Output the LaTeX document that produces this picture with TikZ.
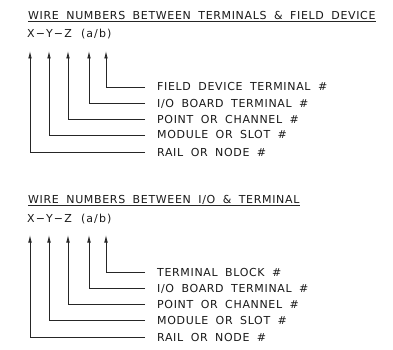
\documentclass[tikz,border=0pt]{standalone}
\usepackage{fontspec}
\setmainfont{DejaVu Sans}[LetterSpace=6, WordSpace=1.8]
\newfontfamily\codefont{DejaVu Sans}[LetterSpace=10, WordSpace=2]
\usepackage{tikz}
\usetikzlibrary{arrows.meta,positioning}

\begin{document}
\begin{tikzpicture}[
    x=1pt, y=-1pt,
    every node/.style={inner sep=0pt, font=\fontsize{11}{13}\selectfont, text=black!90},
    desc/.style={anchor=base west, text height=8pt, text depth=0pt},
    head/.style={anchor=base west},
    code/.style={anchor=base west, font=\codefont\fontsize{11}{13}\selectfont},
    rule/.style={line width=0.8pt, black!85},
    arrow/.style={-{Latex[length=7.5pt,width=3.6pt]}, line width=0.8pt, black!85}
]
    \useasboundingbox (0,0) rectangle (393,350);

    % Terminals to field device
    \node[head] (title1) at (28,19.5) {WIRE NUMBERS BETWEEN TERMINALS \& FIELD DEVICE};
    \draw[rule] ([yshift=-2pt]title1.base west) -- ([yshift=-2pt]title1.base east);
    \node[code] (code1) at (27,38) {X−Y−Z (a/b)};
    \coordinate (x1) at (30,51);
    \coordinate (y1) at (49,51);
    \coordinate (z1) at (68,51);
    \coordinate (a1) at (89,51);
    \coordinate (b1) at (106,51);

    \node[desc] (fdt) at (157,91) {FIELD DEVICE TERMINAL \#};
    \node[desc] (iob1) at (157,107) {I/O BOARD TERMINAL \#};
    \node[desc] (pch1) at (157,123) {POINT OR CHANNEL \#};
    \node[desc] (mod1) at (157,139) {MODULE OR SLOT \#};
    \node[desc] (rail1) at (157,156) {RAIL OR NODE \#};

    \draw[arrow] ([xshift=-12pt]fdt.west) -| (b1);
    \draw[arrow] ([xshift=-12pt]iob1.west) -| (a1);
    \draw[arrow] ([xshift=-12pt]pch1.west) -| (z1);
    \draw[arrow] ([xshift=-12pt]mod1.west) -| (y1);
    \draw[arrow] ([xshift=-12pt]rail1.west) -| (x1);

    % I/O to terminal
    \node[head] (title2) at (28,203.5) {WIRE NUMBERS BETWEEN I/O \& TERMINAL};
    \draw[rule] ([yshift=-2pt]title2.base west) -- ([yshift=-2pt]title2.base east);
    \node[code] (code2) at (27,222) {X−Y−Z (a/b)};
    \coordinate (x2) at (30,235);
    \coordinate (y2) at (49,235);
    \coordinate (z2) at (68,235);
    \coordinate (a2) at (89,235);
    \coordinate (b2) at (106,235);

    \node[desc] (tb) at (157,276) {TERMINAL BLOCK \#};
    \node[desc] (iob2) at (157,292) {I/O BOARD TERMINAL \#};
    \node[desc] (pch2) at (157,308) {POINT OR CHANNEL \#};
    \node[desc] (mod2) at (157,324) {MODULE OR SLOT \#};
    \node[desc] (rail2) at (157,341) {RAIL OR NODE \#};

    \draw[arrow] ([xshift=-12pt]tb.west) -| (b2);
    \draw[arrow] ([xshift=-12pt]iob2.west) -| (a2);
    \draw[arrow] ([xshift=-12pt]pch2.west) -| (z2);
    \draw[arrow] ([xshift=-12pt]mod2.west) -| (y2);
    \draw[arrow] ([xshift=-12pt]rail2.west) -| (x2);
\end{tikzpicture}
\end{document}
